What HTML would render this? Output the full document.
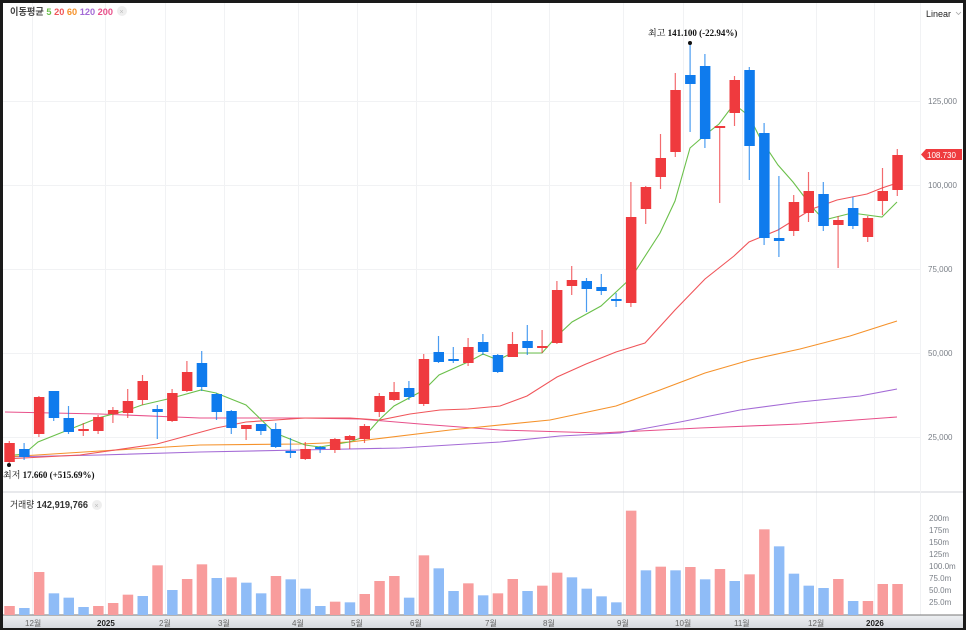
<!DOCTYPE html>
<html><head><meta charset="utf-8"><style>
html,body{margin:0;padding:0;background:#1a1a1a;}
#w{position:relative;width:966px;height:630px;overflow:hidden;background:#1a1a1a;}
svg{position:absolute;left:0;top:0;}
text{font-family:"Liberation Sans","Noto Sans CJK KR",sans-serif;}
</style></head><body><div id="w">
<svg id="s" width="966" height="630" xmlns="http://www.w3.org/2000/svg">
<rect x="3" y="3" width="960" height="625" fill="#fff"/>
<defs><linearGradient id="ax" x1="0" y1="0" x2="0" y2="1"><stop offset="0" stop-color="#eef0f3"/><stop offset="1" stop-color="#d6d9de"/></linearGradient></defs>
<g id="grid" stroke="#f1f2f4" stroke-width="1"></g>
<line x1="3" y1="492" x2="963" y2="492" stroke="#d0d3d8" stroke-width="1"/>
<line x1="920.5" y1="3" x2="920.5" y2="615" stroke="#f1f2f4"/>
<rect x="3" y="615" width="960" height="13" fill="url(#ax)"/>
<line x1="3" y1="615" x2="963" y2="615" stroke="#777" stroke-width="1"/>
<g id="vol"></g>
<g id="ma" fill="none" stroke-width="1.1"></g>
<g id="cd"></g>
<g font-size="8" fill="#7a7f87">
<text x="928" y="104">125,000</text><text x="928" y="188">100,000</text><text x="928" y="272">75,000</text><text x="928" y="356">50,000</text><text x="928" y="440">25,000</text>
<text x="929" y="521">200m</text><text x="929" y="533">175m</text><text x="929" y="545">150m</text><text x="929" y="557">125m</text><text x="929" y="569">100.0m</text><text x="929" y="581">75.0m</text><text x="929" y="593">50.0m</text><text x="929" y="605">25.0m</text>
</g>
<path d="M921 154.5 L926 149 H962 V160 H926 Z" fill="#ef3a3e"/>
<text x="927" y="158" font-size="8" fill="#fff">108.730</text>
<text x="926" y="17" font-size="9" fill="#222">Linear</text>
<path d="M956 12 l2.5 2.5 l2.5 -2.5" stroke="#aaa" fill="none" stroke-width="0.8"/>
<text x="10" y="15" font-size="9.5" font-weight="bold" textLength="103" lengthAdjust="spacingAndGlyphs"><tspan fill="#444">이동평균 </tspan><tspan fill="#6bc04b">5 </tspan><tspan fill="#f0555a">20 </tspan><tspan fill="#f5922b">60 </tspan><tspan fill="#a46bd6">120 </tspan><tspan fill="#e8508a">200</tspan></text>
<circle cx="122" cy="11" r="5" fill="#eee"/><text x="119.5" y="14" font-size="7" fill="#bbb">×</text>
<text x="10" y="508" font-size="9.5" fill="#333" textLength="78" lengthAdjust="spacingAndGlyphs">거래량 <tspan font-weight="bold" font-size="10">142,919,766</tspan></text>
<circle cx="97" cy="505" r="5" fill="#eee"/><text x="94.5" y="508" font-size="7" fill="#bbb">×</text>
<g font-size="8" fill="#666">
<text x="25" y="626">12월</text><text x="97" y="626" fill="#222" font-weight="bold">2025</text><text x="159" y="626">2월</text><text x="218" y="626">3월</text><text x="292" y="626">4월</text><text x="351" y="626">5월</text><text x="410" y="626">6월</text><text x="485" y="626">7월</text><text x="543" y="626">8월</text><text x="617" y="626">9월</text><text x="675" y="626">10월</text><text x="734" y="626">11월</text><text x="808" y="626">12월</text><text x="866" y="626" fill="#222" font-weight="bold">2026</text>
</g>
<circle cx="690" cy="43" r="2" fill="#111"/>
<text x="648" y="36" font-size="9" fill="#111" style="font-family:'Liberation Serif','Noto Serif CJK SC',serif">최고 <tspan font-weight="bold">141.100 (-22.94%)</tspan></text>
<circle cx="9" cy="465" r="2" fill="#111"/>
<text x="3" y="478" font-size="9" fill="#111" style="font-family:'Liberation Serif','Noto Serif CJK SC',serif">최저 <tspan font-weight="bold">17.660 (+515.69%)</tspan></text>
</svg>
<script>
var NS="http://www.w3.org/2000/svg";
function el(p,t,a){var e=document.createElementNS(NS,t);for(var k in a)e.setAttribute(k,a[k]);document.getElementById(p).appendChild(e);}
[32,105,165,224,298,357,416,491,549,623,683,742,816,874].forEach(function(x){el("grid","line",{x1:x+.5,y1:3,x2:x+.5,y2:615});});
[101,185,269,353,437].forEach(function(y){el("grid","line",{x1:3,y1:y+.5,x2:920,y2:y+.5});});
var R="#ef3a3e",B="#0f7bed";
var C=[
["r",443,462,441,463],["b",449,457,443,460],["r",397,434,396,437],["b",391,418,391,421],["b",418,432,406,434],["r",429,431,423,436],["r",417,431,415,434],["r",410,414,407,423],["r",401,413,389,418],["r",381,400,375,405],
["b",409,412,405,439],["r",393,421,389,422],["r",372,391,361,392],["b",363,387,351,391],["b",394,412,393,420],["b",411,428,410,434],["r",425,429,425,440],["b",424,431,424,435],["b",429,447,423,448],["b",451,453,438,458],
["r",449,459,442,460],["b",447,449,446,453],["r",439,450,438,453],["r",436,440,435,449],["r",426,439,424,443],["r",396,412,393,417],["r",392,400,382,401],["b",388,397,381,400],["r",359,404,354,406],["b",352,362,336,363],
["b",359,361,347,363],["r",347,363,338,366],["b",342,352,334,355],["b",355,372,354,373],["r",344,357,332,357],["b",341,348,325,355],["r",346,348,330,353],["r",290,343,281,344],["r",280,286,266,295],["b",281,289,278,312],
["b",287,291,274,295],["b",299,301,293,307],["r",217,303,182,307],["r",187,209,186,224],["r",158,177,134,189],["r",90,152,73,157],["b",75,84,43,132],["b",66,139,54,148],["r",126,128,127,203],["r",80,113,76,126],
["b",70,146,67,180],["b",133,238,123,245],["b",238,241,176,257],["r",202,231,195,236],["r",191,213,172,222],["b",194,226,182,231],["r",220,225,216,268],["b",208,226,197,229],["r",218,237,216,242],["r",191,201,168,215],["r",155,190,149,196]];
var V=[[378,"r"],[384,"b"],[276,"r"],[340,"b"],[353,"b"],[381,"b"],[378,"r"],[369,"r"],[344,"r"],[348,"b"],[256,"r"],[330,"b"],[297,"r"],[253,"r"],[294,"b"],[292,"r"],[308,"b"],[340,"b"],[288,"r"],[298,"b"],[326,"b"],[378,"b"],[365,"r"],[367,"b"],[342,"r"],[303,"r"],[288,"r"],[353,"b"],[226,"r"],[265,"b"],[333,"b"],[310,"r"],[346,"b"],
[340,"r"],[297,"r"],[333,"b"],[317,"r"],[278,"r"],[292,"b"],[326,"b"],[349,"b"],[367,"b"],[92,"r"],[271,"b"],[260,"r"],[271,"b"],[261,"r"],[298,"b"],[267,"r"],[303,"b"],[283,"r"],[148,"r"],[199,"b"],[281,"b"],[317,"b"],[324,"b"],[297,"r"],[363,"b"],[363,"r"],[312,"r"],[312,"r"]];
V.forEach(function(v,i){var x=9.3+14.8*i,t=480+v[0]/3;el("vol","rect",{x:x-5,y:t,width:10.5,height:615-t,fill:v[1]=="r"?"#f89c9c":"#8fbcf7"});});
C.forEach(function(c,i){var x=9.3+14.8*i,col=c[0]=="r"?R:B;
el("cd","line",{x1:x,y1:c[3],x2:x,y2:c[4],stroke:col,"stroke-width":1.2,opacity:.75});
var h=Math.max(c[2]-c[1],1.5);el("cd","rect",{x:x-5,y:c[1],width:10.5,height:h,fill:col});});
function pl(c,pts){el("ma","polyline",{points:pts,stroke:c});}
pl("#e8508a","5,412 100,414 200,418 300,418 360,419 420,424 500,430 600,433 700,428 800,424 897,417");
pl("#a46bd6","5,457 100,455 200,452 300,450 400,448 500,442 560,436 620,433 680,422 740,410 800,402 860,396 897,389");
pl("#f5922b","5,457 100,451 200,445 300,444 350,442 450,430 550,420 616,406 660,390 705,373 750,360 800,349 850,336 897,321");
pl("#f0555a","5,459 80,455 157,444 216,428 246,422 305,418 350,418 380,420 410,414 440,410 468,409 500,406 527,396 557,377 586,364 616,352 645,343 675,310 705,279 734,256 749,242 778,230 812,209 837,200 867,194 882,188 897,183");
pl("#6bc04b","5,456 24,454 38,442 68,430 98,418 128,410 142,405 172,398 201,390 216,393 246,405 275,433 305,445 320,447 349,442 364,437 379,420 394,406 424,390 439,375 468,362 483,354 498,360 512,353 542,353 557,336 572,322 601,306 631,278 660,233 675,201 690,148 705,135 719,124 734,104 749,116 760,138 778,165 793,182 812,207 824,220 852,213 882,217 897,202");
</script>
</div></body></html>
